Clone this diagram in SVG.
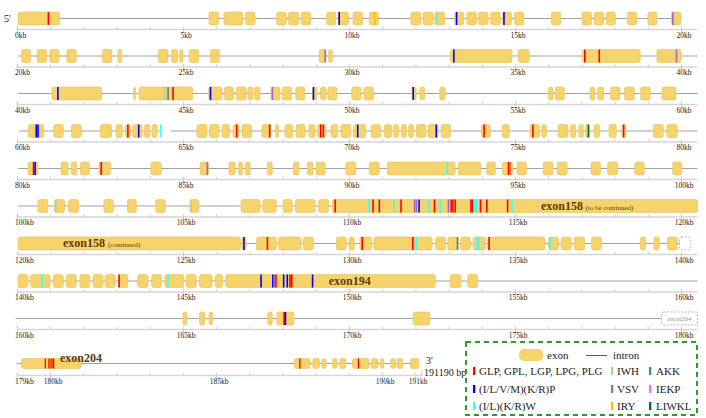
<svg xmlns="http://www.w3.org/2000/svg" xmlns:xlink="http://www.w3.org/1999/xlink" width="706" height="418" viewBox="0 0 706 418">
<style>
.ex{y:-6.5px;height:13px;rx:4.4px;ry:2px;fill:#f6d46b;stroke:#e3c15e;stroke-width:.6;vector-effect:non-scaling-stroke}
.ex10{y:-5px;height:10px;rx:6px;ry:2px;fill:#f6d46b;stroke:#e3c15e;stroke-width:.6;vector-effect:non-scaling-stroke}
.mk{y:-6.5px;height:13px;width:3.5px}
.mk10{y:-5px;height:10px;width:4px}
.in{stroke:#a3a3a3;stroke-width:1.2;vector-effect:non-scaling-stroke}
.r{fill:#ff0000}.b{fill:#0000ff}.c{fill:#33ffff}.g{fill:#b6cf9a}.t{fill:#3f8f98}.p{fill:#9966cc}.m{fill:#ff66ff}.y{fill:#ffc000}.d{fill:#0b6623}.o{fill:#ff6a00}
.axl{stroke:#d6d6d6;stroke-width:1.5}
.tk{stroke:#c4c4c4;stroke-width:.8}
.lb{font-family:"Liberation Serif",serif;font-size:7.5px;fill:#222}
.lbm{text-anchor:middle}
.ser{font-family:"Liberation Serif",serif;fill:#222}
.ename{font-family:"Liberation Serif",serif;font-weight:bold;font-size:12px;fill:#5a3c0c}
.sub{font-family:"Liberation Serif",serif;font-size:7px;fill:#5a3c0c}
.dash{fill:#fff;stroke:#aaa;stroke-width:.8;stroke-dasharray:2 1.5}
.lg{font-family:"Liberation Serif",serif;font-size:11px;fill:#222}
</style>
<defs>
<g id="ax20">
<line class="axl" x1="17" y1="0" x2="697" y2="0"/>
<path class="tk" d="M17.5-3v3M50.7-3v3M83.9-3v3M117.1-3v3M150.3-3v3M216.7-3v3M249.9-3v3M283.1-3v3M316.3-3v3M382.7-3v3M415.9-3v3M449.1-3v3M482.3-3v3M548.7-3v3M581.9-3v3M615.1-3v3M648.3-3v3"/>
<path class="tk" d="M17.5-3v6M183.5-3v6M349.5-3v6M515.5-3v6M681.5-3v6"/>
</g>
</defs>

<text class="ser" x="4" y="22" font-size="10">5'</text>

<g id="row1" transform="translate(0,18.5) scale(0.4515,1)">
<line class="in" x1="40" x2="1510"/>
<rect class="ex" x="40" width="92"/><rect class="ex" x="463" width="21"/><rect class="ex" x="496" width="42"/><rect class="ex" x="544" width="21"/><rect class="ex" x="613" width="21"/><rect class="ex" x="639" width="22"/><rect class="ex" x="667" width="21"/><rect class="ex" x="723" width="21"/><rect class="ex" x="749" width="23"/><rect class="ex" x="782" width="21"/><rect class="ex" x="818" width="20"/><rect class="ex" x="910" width="22"/><rect class="ex" x="937" width="22"/><rect class="ex" x="963" width="22"/><rect class="ex" x="1007" width="20"/><rect class="ex" x="1034" width="21"/><rect class="ex" x="1060" width="21"/><rect class="ex" x="1087" width="21"/><rect class="ex" x="1113" width="20"/><rect class="ex" x="1140" width="20"/><rect class="ex" x="1221" width="21"/><rect class="ex" x="1289" width="21"/><rect class="ex" x="1316" width="21"/><rect class="ex" x="1343" width="20"/><rect class="ex" x="1390" width="20"/><rect class="ex" x="1435" width="20"/><rect class="ex" x="1487" width="21"/>
<rect class="mk r" x="105.5"/><rect class="mk b" x="749.5"/><rect class="mk y" x="828.5"/><rect class="mk c" x="966.5"/><rect class="mk b" x="1009.5"/><rect class="mk b" x="1114.5"/><rect class="mk p" x="1488.5"/>
</g>

<g id="row2" transform="translate(0,56) scale(0.4515,1)">
<line class="in" x1="40" x2="1545"/>
<rect class="ex" x="48" width="20"/><rect class="ex" x="82" width="21"/><rect class="ex" x="110" width="21"/><rect class="ex" x="148" width="21"/><rect class="ex" x="227" width="21"/><rect class="ex" x="261" width="9"/><rect class="ex" x="351" width="21"/><rect class="ex" x="380" width="14"/><rect class="ex" x="398" width="7"/><rect class="ex" x="419" width="21"/><rect class="ex" x="466" width="20"/><rect class="ex" x="707" width="15"/><rect class="ex" x="728" width="8"/><rect class="ex" x="998" width="136"/><rect class="ex" x="1148" width="24"/><rect class="ex" x="1290" width="128"/><rect class="ex" x="1455" width="54"/>
<rect class="mk p" x="718.5"/><rect class="mk b" x="1003.5"/><rect class="mk r" x="1293.5"/><rect class="mk r" x="1325.5"/><rect class="mk p" x="1496.5"/>
</g>

<g id="row3" transform="translate(0,93.5) scale(0.4515,1)">
<line class="in" x1="40" x2="1545"/>
<rect class="ex" x="115" width="110"/><rect class="ex" x="296" width="4"/><rect class="ex" x="308" width="119"/><rect class="ex" x="462" width="30"/><rect class="ex" x="497" width="20"/><rect class="ex" x="523" width="22"/><rect class="ex" x="549" width="11"/><rect class="ex" x="564" width="12"/><rect class="ex" x="600" width="20"/><rect class="ex" x="625" width="21"/><rect class="ex" x="655" width="20"/><rect class="ex" x="692" width="10"/><rect class="ex" x="710" width="12"/><rect class="ex" x="726" width="20"/><rect class="ex" x="779" width="21"/><rect class="ex" x="806" width="21"/><rect class="ex" x="912" width="10"/><rect class="ex" x="930" width="11"/><rect class="ex" x="974" width="12"/><rect class="ex" x="1215" width="10"/><rect class="ex" x="1230" width="20"/><rect class="ex" x="1307" width="11"/><rect class="ex" x="1324" width="13"/><rect class="ex" x="1352" width="21"/><rect class="ex" x="1383" width="22"/><rect class="ex" x="1419" width="21"/><rect class="ex" x="1466" width="31"/>
<rect class="mk b" x="126.5"/><rect class="mk g" x="363.5"/><rect class="mk t" x="370.5"/><rect class="mk r" x="381.5"/><rect class="mk b" x="464.5"/><rect class="mk p" x="601.5"/><rect class="mk b" x="692.5"/><rect class="mk b" x="913.5"/>
</g>

<g id="row4" transform="translate(0,131) scale(0.4515,1)">
<line class="in" x1="42" x2="358"/><line class="in" x1="378" x2="1545"/>
<rect class="ex" x="63" width="34"/><rect class="ex" x="119" width="21"/><rect class="ex" x="158" width="22"/><rect class="ex" x="222" width="25"/><rect class="ex" x="257" width="14"/><rect class="ex" x="278" width="11"/><rect class="ex" x="294" width="21"/><rect class="ex" x="320" width="12"/><rect class="ex" x="337" width="11"/><rect class="ex" x="436" width="22"/><rect class="ex" x="464" width="21"/><rect class="ex" x="492" width="16"/><rect class="ex" x="516" width="14"/><rect class="ex" x="536" width="21"/><rect class="ex" x="580" width="20"/><rect class="ex" x="610" width="7"/><rect class="ex" x="631" width="17"/><rect class="ex" x="656" width="20"/><rect class="ex" x="684" width="14"/><rect class="ex" x="703" width="19"/><rect class="ex" x="733" width="15"/><rect class="ex" x="755" width="22"/><rect class="ex" x="783" width="27"/><rect class="ex" x="822" width="21"/><rect class="ex" x="851" width="16"/><rect class="ex" x="872" width="11"/><rect class="ex" x="889" width="11"/><rect class="ex" x="905" width="11"/><rect class="ex" x="922" width="21"/><rect class="ex" x="948" width="22"/><rect class="ex" x="977" width="21"/><rect class="ex" x="1066" width="20"/><rect class="ex" x="1112" width="16"/><rect class="ex" x="1174" width="21"/><rect class="ex" x="1200" width="10"/><rect class="ex" x="1236" width="22"/><rect class="ex" x="1264" width="11"/><rect class="ex" x="1282" width="10"/><rect class="ex" x="1297" width="9"/><rect class="ex" x="1316" width="12"/><rect class="ex" x="1349" width="16"/><rect class="ex" x="1377" width="9"/><rect class="ex" x="1447" width="22"/><rect class="ex" x="1477" width="23"/>
<rect class="mk b" x="78.5"/><rect class="mk b" x="82.5"/><rect class="mk r" x="281.5"/><rect class="mk b" x="305.5"/><rect class="mk c" x="354.5"/><rect class="mk r" x="522.5"/><rect class="mk r" x="595.5"/><rect class="mk r" x="708.5"/><rect class="mk r" x="714.5"/><rect class="mk b" x="790.5"/><rect class="mk b" x="964.5"/><rect class="mk r" x="1070.5"/><rect class="mk r" x="1178.5"/><rect class="mk d" x="1301.5"/><rect class="mk r" x="1379.5"/>
</g>

<g id="row5" transform="translate(0,168.5) scale(0.4515,1)">
<line class="in" x1="40" x2="1545"/>
<rect class="ex" x="62" width="22"/><rect class="ex" x="135" width="16"/><rect class="ex" x="158" width="12"/><rect class="ex" x="178" width="20"/><rect class="ex" x="219" width="26"/><rect class="ex" x="334" width="23"/><rect class="ex" x="443" width="19"/><rect class="ex" x="507" width="14"/><rect class="ex" x="528" width="9"/><rect class="ex" x="543" width="11"/><rect class="ex" x="592" width="11"/><rect class="ex" x="650" width="12"/><rect class="ex" x="681" width="12"/><rect class="ex" x="700" width="20"/><rect class="ex" x="766" width="22"/><rect class="ex" x="818" width="22"/><rect class="ex" x="858" width="150"/><rect class="ex" x="1015" width="50"/><rect class="ex" x="1078" width="19"/><rect class="ex" x="1113" width="22"/><rect class="ex" x="1145" width="21"/><rect class="ex" x="1203" width="22"/><rect class="ex" x="1234" width="22"/><rect class="ex" x="1309" width="21"/><rect class="ex" x="1346" width="22"/><rect class="ex" x="1406" width="21"/><rect class="ex" x="1490" width="20"/>
<rect class="mk r" x="72.5"/><rect class="mk b" x="76"/><rect class="mk r" x="222.5"/><rect class="mk p" x="457.5"/><rect class="mk c" x="988.5"/><rect class="mk r" x="1124.5"/><rect class="mk o" x="1128"/>
</g>

<g id="row6" transform="translate(0,206) scale(0.4515,1)">
<line class="in" x1="40" x2="736"/>
<rect class="ex" x="84" width="22"/><rect class="ex" x="121" width="22"/><rect class="ex" x="152" width="22"/><rect class="ex" x="230" width="21"/><rect class="ex" x="282" width="20"/><rect class="ex" x="345" width="21"/><rect class="ex" x="421" width="19"/><rect class="ex" x="534" width="42"/><rect class="ex" x="582" width="30"/><rect class="ex" x="627" width="20"/><rect class="ex" x="654" width="44"/><rect class="ex" x="706" width="22"/><rect class="ex" x="736" width="809"/>
<rect class="mk g" x="121.5"/><rect class="mk g" x="421.5"/><rect class="mk r" x="740.5"/><rect class="mk c" x="815.5"/><rect class="mk r" x="824.5"/><rect class="mk r" x="838.5"/><rect class="mk c" x="870.5"/><rect class="mk r" x="886.5"/><rect class="mk p" x="916.5"/><rect class="mk p" x="920.5"/><rect class="mk b" x="926.5"/><rect class="mk c" x="948.5"/><rect class="mk r" x="960.5"/><rect class="mk c" x="973.5"/><rect class="mk p" x="991.5"/><rect class="mk r" x="997.5"/><rect class="mk r" x="1001.5"/><rect class="mk r" x="1006.5"/><rect class="mk r" x="1041.5"/><rect class="mk r" x="1044.5"/><rect class="mk c" x="1048.5"/><rect class="mk c" x="1053.5"/><rect class="mk r" x="1062.5"/><rect class="mk r" x="1076.5"/><rect class="mk r" x="1122.5"/><rect class="mk c" x="1132.5"/>
</g>
<text class="ename" x="541" y="209.5">exon158</text>
<text class="sub" x="585.5" y="209.5">(to be continued)</text>

<g id="row7" transform="translate(0,243.5) scale(0.4515,1)">
<line class="in" x1="40" x2="1505"/>
<rect class="ex" x="40" width="493"/><rect class="ex" x="536" width="9"/><rect class="ex" x="568" width="44"/><rect class="ex" x="617" width="50"/><rect class="ex" x="672" width="22"/><rect class="ex" x="745" width="22"/><rect class="ex" x="773" width="12"/><rect class="ex" x="797" width="26"/><rect class="ex" x="828" width="129"/><rect class="ex" x="965" width="22"/><rect class="ex" x="992" width="23"/><rect class="ex" x="1020" width="22"/><rect class="ex" x="1048" width="27"/><rect class="ex" x="1079" width="128"/><rect class="ex" x="1215" width="22"/><rect class="ex" x="1243" width="22"/><rect class="ex" x="1272" width="23"/><rect class="ex" x="1310" width="22"/><rect class="ex" x="1418" width="12"/><rect class="ex" x="1448" width="12"/><rect class="ex" x="1478" width="22"/>
<rect class="mk b" x="538.5"/><rect class="mk r" x="590.5"/><rect class="mk r" x="800.5"/><rect class="mk r" x="912.5"/><rect class="mk c" x="920.5"/><rect class="mk t" x="1011.5"/><rect class="mk c" x="1055.5"/><rect class="mk c" x="1058.5"/><rect class="mk r" x="1081.5"/><rect class="mk c" x="1216.5"/>
</g>
<rect class="dash" x="679.5" y="237" width="11.3" height="13" rx="2"/>
<text class="ename" x="63" y="247">exon158</text>
<text class="sub" x="108" y="247" font-size="7.5">(continued)</text>

<g id="row8" transform="translate(0,281) scale(0.4515,1)">
<line class="in" x1="40" x2="1545"/>
<rect class="ex" x="40" width="22"/><rect class="ex" x="68" width="43"/><rect class="ex" x="118" width="22"/><rect class="ex" x="147" width="22"/><rect class="ex" x="177" width="22"/><rect class="ex" x="206" width="22"/><rect class="ex" x="233" width="22"/><rect class="ex" x="262" width="21"/><rect class="ex" x="305" width="23"/><rect class="ex" x="336" width="22"/><rect class="ex" x="365" width="42"/><rect class="ex" x="413" width="22"/><rect class="ex" x="442" width="28"/><rect class="ex" x="477" width="16"/><rect class="ex" x="500" width="464"/><rect class="ex" x="997" width="24"/><rect class="ex" x="1036" width="22"/>
<rect class="mk c" x="91.5"/><rect class="mk r" x="262"/><rect class="mk c" x="370.5"/><rect class="mk b" x="576.5"/><rect class="mk b" x="602.5"/><rect class="mk p" x="605.5"/><rect class="mk r" x="609.5"/><rect class="mk b" x="626.5"/><rect class="mk b" x="634.5"/><rect class="mk r" x="640.5"/><rect class="mk r" x="644.5"/><rect class="mk b" x="690.5"/>
</g>
<text class="ename" x="328.7" y="284.5">exon194</text>

<g id="row9" transform="translate(0,318.5) scale(0.4515,1)">
<line class="in" x1="35" x2="1465"/>
<rect class="ex" x="405" width="9"/><rect class="ex" x="442" width="12"/><rect class="ex" x="463" width="8"/><rect class="ex" x="593" width="10"/><rect class="ex" x="613" width="38"/><rect class="ex" x="915" width="37"/>
<rect class="mk r" x="627.5"/><rect class="mk b" x="630.5"/>
</g>
<g id="exon204-ref">
<rect class="dash" x="661.5" y="312" width="36" height="13" rx="2"/>
<text x="679.5" y="321" text-anchor="middle" font-family="Liberation Serif, serif" font-size="7" fill="#999">exon204</text>
</g>

<g id="row10" transform="translate(0,363.5) scale(0.331,1)">
<line class="in" x1="50" x2="1265"/>
<rect class="ex10" x="65" width="180"/><rect class="ex10" x="890" width="47"/><rect class="ex10" x="945" width="20"/><rect class="ex10" x="972" width="13"/><rect class="ex10" x="1005" width="13"/><rect class="ex10" x="1027" width="18"/><rect class="ex10" x="1065" width="50"/><rect class="ex10" x="1122" width="20"/><rect class="ex10" x="1150" width="10"/><rect class="ex10" x="1180" width="15"/><rect class="ex10" x="1200" width="17"/><rect class="ex10" x="1240" width="25"/>
<rect class="mk10 r" x="135"/><rect class="mk10 r" x="146"/><rect class="mk10 o" x="151"/><rect class="mk10 r" x="155"/><rect class="mk10 r" x="160"/><rect class="mk10 r" x="904"/><rect class="mk10 r" x="1081"/>
</g>
<text class="ename" x="60" y="362" font-size="12.5" fill="#6b3a0f">exon204</text>
<text class="ser" x="426" y="364" font-size="10">3'</text>
<text class="ser" x="424" y="375.5" font-size="10">191190 bp</text>

<g id="axes">
<use xlink:href="#ax20" href="#ax20" y="29.5"/>
<use xlink:href="#ax20" href="#ax20" y="67"/>
<use xlink:href="#ax20" href="#ax20" y="104.5"/>
<use xlink:href="#ax20" href="#ax20" y="142"/>
<use xlink:href="#ax20" href="#ax20" y="179.5"/>
<use xlink:href="#ax20" href="#ax20" y="217"/>
<use xlink:href="#ax20" href="#ax20" y="254.5"/>
<use xlink:href="#ax20" href="#ax20" y="292"/>
<use xlink:href="#ax20" href="#ax20" y="329.5"/>
<g transform="translate(0,375.5)">
<line class="axl" x1="17" y1="0" x2="423" y2="0"/>
<path class="tk" d="M83.7-3v3M116.9-3v3M150.1-3v3M183.3-3v3M249.7-3v3M282.9-3v3M316.1-3v3M349.3-3v3M422-6v6"/>
<path class="tk" d="M17.3-3v6M50.5-3v6M216.5-3v6M382.5-3v6M415.7-3v6"/>
</g>
</g>

<g id="axis-labels" class="lb">
<text x="15" y="37.5">0kb</text><text class="lbm" x="186" y="37.5">5kb</text><text class="lbm" x="352" y="37.5">10kb</text><text class="lbm" x="518" y="37.5">15kb</text><text class="lbm" x="684" y="37.5">20kb</text>
<text x="15" y="75">20kb</text><text class="lbm" x="186" y="75">25kb</text><text class="lbm" x="352" y="75">30kb</text><text class="lbm" x="518" y="75">35kb</text><text class="lbm" x="684" y="75">40kb</text>
<text x="15" y="112.5">40kb</text><text class="lbm" x="186" y="112.5">45kb</text><text class="lbm" x="352" y="112.5">50kb</text><text class="lbm" x="518" y="112.5">55kb</text><text class="lbm" x="684" y="112.5">60kb</text>
<text x="15" y="150">60kb</text><text class="lbm" x="186" y="150">65kb</text><text class="lbm" x="352" y="150">70kb</text><text class="lbm" x="518" y="150">75kb</text><text class="lbm" x="684" y="150">80kb</text>
<text x="15" y="187.5">80kb</text><text class="lbm" x="186" y="187.5">85kb</text><text class="lbm" x="352" y="187.5">90kb</text><text class="lbm" x="518" y="187.5">95kb</text><text class="lbm" x="684" y="187.5">100kb</text>
<text x="15" y="225">100kb</text><text class="lbm" x="186" y="225">105kb</text><text class="lbm" x="352" y="225">110kb</text><text class="lbm" x="518" y="225">115kb</text><text class="lbm" x="684" y="225">120kb</text>
<text x="15" y="262.5">120kb</text><text class="lbm" x="186" y="262.5">125kb</text><text class="lbm" x="352" y="262.5">130kb</text><text class="lbm" x="518" y="262.5">135kb</text><text class="lbm" x="684" y="262.5">140kb</text>
<text x="15" y="300">140kb</text><text class="lbm" x="186" y="300">145kb</text><text class="lbm" x="352" y="300">150kb</text><text class="lbm" x="518" y="300">155kb</text><text class="lbm" x="684" y="300">160kb</text>
<text x="15" y="337.5">160kb</text><text class="lbm" x="186" y="337.5">165kb</text><text class="lbm" x="352" y="337.5">170kb</text><text class="lbm" x="518" y="337.5">175kb</text><text class="lbm" x="684" y="337.5">180kb</text>
<text x="15" y="383.5">179kb</text><text class="lbm" x="53" y="383.5">180kb</text><text class="lbm" x="219" y="383.5">185kb</text><text class="lbm" x="385" y="383.5">190kb</text><text class="lbm" x="418" y="383.5">191kb</text>
</g>

<g id="legend">
<rect x="466" y="342" width="231" height="73" fill="none" stroke="#2e9a2e" stroke-width="2" stroke-dasharray="5 4"/>
<rect x="519" y="349" width="24" height="12" rx="5" fill="#f6d46b"/>
<text class="lg" x="547" y="359">exon</text>
<line x1="586" y1="355.5" x2="607" y2="355.5" stroke="#555" stroke-width="1"/>
<text class="lg" x="613" y="359">intron</text>
<rect class="r" x="473" y="367" width="2.3" height="8"/><text class="lg" x="479" y="374.5">GLP, GPL, LGP, LPG, PLG</text>
<rect class="g" x="611" y="367" width="2.3" height="8"/><text class="lg" x="617" y="374.5">IWH</text>
<rect class="t" x="649" y="367" width="2.3" height="8"/><text class="lg" x="656" y="374.5">AKK</text>
<rect class="b" x="473" y="385" width="2.3" height="8"/><text class="lg" x="479" y="392.5">(I/L/V/M)(K/R)P</text>
<rect class="p" x="611" y="385" width="2.3" height="8"/><text class="lg" x="617" y="392.5">VSV</text>
<rect class="m" x="649" y="385" width="2.3" height="8"/><text class="lg" x="656" y="392.5">IEKP</text>
<rect class="c" x="473" y="402" width="2.3" height="8"/><text class="lg" x="479" y="409.5">(I/L)(K/R)W</text>
<rect class="y" x="611" y="402" width="2.3" height="8"/><text class="lg" x="617" y="409.5">IRY</text>
<rect class="d" x="649" y="402" width="2.3" height="8"/><text class="lg" x="656" y="409.5">LIWKL</text>
</g>
</svg>
